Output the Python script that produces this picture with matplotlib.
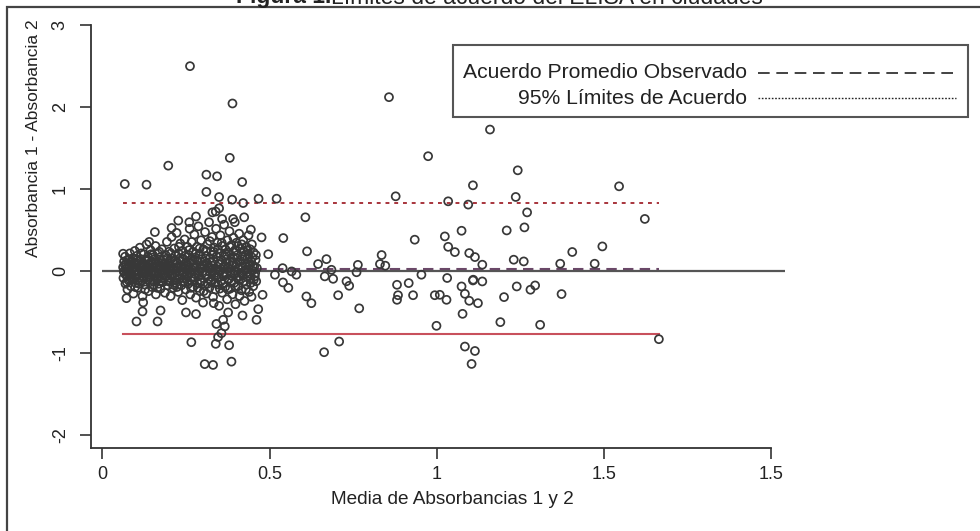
import matplotlib
matplotlib.use("Agg")
import matplotlib.pyplot as plt
from matplotlib.patches import Rectangle
from matplotlib.lines import Line2D

plt.rcParams['font.family'] = ['Liberation Sans', 'DejaVu Sans']

# ---------------- data ----------------
# dense cloud of low absorbance samples (media, diferencia)
nube_izq = [
    (0.062, 0.05), (0.063, -0.08), (0.065, 0.12), (0.066, -0.02), (0.068, 0.18), (0.069, -0.15),
    (0.071, 0.03), (0.072, 0.09), (0.074, -0.06), (0.075, -0.22), (0.076, 0.14), (0.078, 0.0),
    (0.079, -0.11), (0.081, 0.07), (0.082, 0.22), (0.084, -0.04), (0.085, -0.18), (0.087, 0.11),
    (0.088, 0.02), (0.090, -0.09), (0.091, 0.16), (0.093, -0.27), (0.094, 0.05), (0.096, -0.01),
    (0.097, 0.25), (0.099, -0.14), (0.100, 0.08), (0.102, -0.05), (0.103, 0.19), (0.105, 0.01),
    (0.106, -0.20), (0.108, 0.12), (0.109, -0.08), (0.111, 0.04), (0.112, 0.29), (0.114, -0.12),
    (0.115, 0.15), (0.117, -0.02), (0.118, 0.07), (0.120, -0.30), (0.121, 0.10), (0.123, -0.06),
    (0.124, 0.21), (0.126, 0.0), (0.127, -0.16), (0.129, 0.13), (0.130, -0.03), (0.132, 0.33),
    (0.133, 0.06), (0.135, -0.10),
    (0.136, 0.18), (0.138, -0.24), (0.139, 0.02), (0.141, 0.09), (0.142, -0.07), (0.144, 0.26),
    (0.145, -0.01), (0.147, 0.12), (0.148, -0.19), (0.150, 0.05), (0.151, 0.20), (0.153, -0.12),
    (0.154, 0.0), (0.156, 0.15), (0.157, -0.05), (0.159, 0.31), (0.160, -0.28), (0.162, 0.08),
    (0.163, -0.10), (0.165, 0.03), (0.166, 0.22), (0.168, -0.15), (0.169, 0.11), (0.171, -0.02),
    (0.172, 0.17), (0.174, -0.21), (0.175, 0.06), (0.177, -0.08), (0.178, 0.27), (0.180, 0.01),
    (0.181, -0.13), (0.183, 0.14), (0.184, -0.04), (0.186, 0.09), (0.187, -0.26), (0.189, 0.20),
    (0.190, -0.06), (0.192, 0.04), (0.193, 0.36), (0.195, -0.17), (0.196, 0.10), (0.198, -0.01),
    (0.199, 0.24),
]
nube_centro = [
    (0.201, -0.11), (0.203, 0.07), (0.204, -0.30), (0.206, 0.16), (0.207, 0.42), (0.209, -0.03),
    (0.210, 0.12), (0.212, -0.20), (0.213, 0.03), (0.215, 0.28), (0.216, -0.08), (0.218, 0.19),
    (0.219, -0.14), (0.221, 0.05), (0.222, 0.47), (0.224, -0.04), (0.225, 0.10), (0.227, -0.25),
    (0.228, 0.22), (0.230, 0.0), (0.231, -0.09), (0.233, 0.34), (0.234, 0.13), (0.236, -0.17),
    (0.237, 0.06), (0.239, -0.35), (0.240, 0.25), (0.242, -0.02), (0.243, 0.15), (0.245, -0.12),
    (0.246, 0.39), (0.248, 0.04), (0.249, -0.22), (0.251, 0.11), (0.252, -0.06), (0.254, 0.30),
    (0.255, 0.08), (0.257, -0.15), (0.258, 0.20), (0.260, -0.01), (0.261, 0.52), (0.263, -0.28),
    (0.264, 0.14), (0.266, -0.07), (0.267, 0.36), (0.269, 0.02),
    (0.270, -0.19), (0.271, 0.24), (0.273, 0.09), (0.274, -0.10), (0.275, 0.45), (0.277, -0.03),
    (0.278, 0.17), (0.280, -0.32), (0.281, 0.06), (0.283, 0.30), (0.284, -0.14), (0.286, 0.12),
    (0.287, 0.55), (0.289, -0.06), (0.290, 0.21), (0.292, -0.24), (0.293, 0.03), (0.295, 0.38),
    (0.296, -0.11), (0.298, 0.15), (0.299, 0.0), (0.301, -0.38), (0.302, 0.27), (0.304, 0.08),
    (0.305, -0.17), (0.307, 0.48), (0.308, -0.04), (0.310, 0.19), (0.311, -0.27), (0.313, 0.10),
    (0.314, 0.33), (0.316, -0.09), (0.317, 0.04), (0.319, 0.60), (0.320, -0.20), (0.322, 0.16),
    (0.323, -0.01), (0.325, 0.25), (0.326, -0.13), (0.328, 0.42), (0.329, 0.07), (0.331, -0.31),
    (0.332, 0.13), (0.334, -0.05), (0.335, 0.29), (0.337, 0.02), (0.338, -0.22), (0.340, 0.52),
    (0.341, 0.18), (0.343, -0.08), (0.344, 0.35), (0.346, -0.16), (0.347, 0.09),
]
nube_der = [
    (0.349, -0.42), (0.350, 0.22), (0.352, 0.0), (0.353, 0.44), (0.355, -0.12), (0.356, 0.14),
    (0.358, -0.26), (0.359, 0.31), (0.361, 0.05), (0.362, -0.06), (0.364, 0.57), (0.365, 0.19),
    (0.367, -0.19), (0.368, 0.27), (0.370, -0.03), (0.371, 0.10), (0.373, -0.34), (0.374, 0.38),
    (0.376, 0.04), (0.377, -0.10), (0.379, 0.23), (0.380, 0.49), (0.382, -0.21), (0.383, 0.12),
    (0.385, -0.05), (0.386, 0.32), (0.388, 0.07), (0.389, -0.28), (0.391, 0.17), (0.392, 0.41),
    (0.394, -0.14), (0.395, 0.01), (0.397, 0.26), (0.398, -0.40), (0.400, 0.09), (0.401, 0.35),
    (0.403, -0.08), (0.404, 0.20), (0.406, -0.18), (0.407, 0.03), (0.409, 0.46), (0.410, -0.30),
    (0.412, 0.13), (0.413, 0.28), (0.415, -0.02), (0.416, -0.23), (0.418, 0.18), (0.419, 0.06),
    (0.421, 0.38), (0.422, -0.12), (0.424, 0.24), (0.425, -0.36), (0.427, 0.10), (0.428, 0.02),
    (0.430, 0.30), (0.431, -0.16), (0.433, 0.15), (0.434, -0.07), (0.436, 0.21), (0.437, 0.44),
    (0.439, -0.25), (0.440, 0.08), (0.442, 0.27), (0.443, -0.10), (0.445, 0.12), (0.446, -0.31),
    (0.448, 0.17), (0.449, 0.01), (0.451, -0.18), (0.452, 0.23), (0.454, 0.06), (0.456, -0.06),
    (0.458, 0.14), (0.460, -0.12), (0.462, 0.04),
]
nube_nucleo = [
    (0.064, 0.0), (0.070, -0.04), (0.076, 0.06), (0.083, -0.10), (0.089, 0.04), (0.095, -0.07),
    (0.101, 0.10), (0.107, -0.03), (0.113, 0.06), (0.119, -0.11), (0.125, 0.08), (0.131, -0.07),
    (0.137, 0.04), (0.143, -0.13), (0.149, 0.09), (0.155, -0.03), (0.161, 0.06), (0.167, -0.09),
    (0.173, 0.02), (0.179, 0.10), (0.185, -0.08), (0.191, 0.07), (0.197, -0.12), (0.202, 0.03),
    (0.208, -0.06), (0.214, 0.09), (0.220, -0.10), (0.226, 0.04), (0.232, 0.16), (0.238, -0.05),
    (0.244, 0.08), (0.250, -0.09), (0.256, 0.02), (0.262, 0.10), (0.268, -0.12), (0.272, 0.05),
    (0.276, -0.07), (0.282, 0.14), (0.288, 0.0), (0.294, -0.13), (0.300, 0.07), (0.306, 0.12),
    (0.312, -0.04), (0.318, 0.06), (0.324, -0.11), (0.330, 0.20), (0.336, -0.02), (0.342, 0.03),
    (0.348, -0.07), (0.354, 0.09), (0.360, -0.15), (0.366, 0.06), (0.372, 0.15), (0.378, -0.09),
    (0.384, 0.0), (0.390, 0.11), (0.396, -0.03), (0.402, 0.16), (0.408, -0.10), (0.414, 0.05),
    (0.420, -0.05), (0.426, 0.18), (0.432, -0.01), (0.438, 0.11), (0.444, -0.14), (0.450, 0.07),
    (0.457, -0.02),
]
nube_nucleo2 = [
    (0.067, 0.08), (0.073, -0.13), (0.080, 0.15), (0.086, -0.02), (0.092, 0.10), (0.098, -0.19),
    (0.104, 0.14), (0.110, -0.15), (0.116, 0.22), (0.122, 0.02), (0.128, -0.22), (0.134, 0.15),
    (0.140, -0.04), (0.146, 0.21), (0.152, -0.16), (0.158, 0.11), (0.164, -0.20), (0.170, 0.24),
    (0.176, -0.12), (0.182, 0.05), (0.188, -0.02), (0.194, 0.16), (0.200, 0.01), (0.205, 0.22),
    (0.211, -0.16), (0.217, 0.13), (0.223, -0.19), (0.229, 0.30), (0.235, 0.01), (0.241, -0.13),
    (0.247, 0.19), (0.253, -0.03), (0.259, 0.26), (0.265, -0.20), (0.270, 0.13), (0.279, 0.22),
    (0.285, -0.20), (0.291, 0.28), (0.297, 0.05), (0.303, -0.24), (0.309, 0.25), (0.315, -0.15),
    (0.321, 0.37), (0.327, 0.01), (0.333, 0.24), (0.339, -0.14), (0.345, 0.27), (0.351, -0.21),
    (0.357, 0.35), (0.363, -0.01), (0.369, 0.21), (0.375, -0.22), (0.381, 0.30), (0.387, -0.12),
    (0.393, 0.24), (0.399, -0.19), (0.405, 0.31), (0.411, -0.06), (0.417, 0.33), (0.423, 0.0),
    (0.429, -0.22), (0.435, 0.26), (0.441, -0.03), (0.447, 0.33), (0.453, -0.10), (0.459, 0.20),
]
# scattered samples
dispersos = [
    (0.067, 1.066), (0.132, 1.058), (0.197, 1.29), (0.311, 1.18), (0.343, 1.16), (0.381, 1.385),
    (0.418, 1.09), (0.311, 0.97), (0.349, 0.907), (0.388, 0.875), (0.421, 0.834), (0.467, 0.887),
    (0.521, 0.887), (0.349, 0.77), (0.339, 0.73), (0.329, 0.72), (0.358, 0.64), (0.391, 0.64),
    (0.396, 0.60), (0.424, 0.66), (0.280, 0.67), (0.260, 0.60), (0.227, 0.62), (0.207, 0.53),
    (0.157, 0.48), (0.140, 0.36), (0.062, 0.216), (0.444, 0.51), (0.476, 0.415), (0.541, 0.407),
    (0.607, 0.66), (0.612, 0.245), (0.670, 0.15), (0.645, 0.09), (0.496, 0.21), (0.539, 0.04),
    (0.566, 0.0), (0.580, -0.04), (0.516, -0.04), (0.540, -0.134), (0.556, -0.20), (0.479, -0.285),
    (0.610, -0.305), (0.625, -0.387), (0.665, -0.06), (0.690, -0.09), (0.685, 0.02), (0.705, -0.29),
    (0.730, -0.12), (0.738, -0.175), (0.764, 0.08), (0.760, -0.01), (0.768, -0.45), (0.835, 0.20),
    (0.830, 0.09), (0.846, 0.07), (0.877, 0.916), (0.974, 1.405), (1.034, 0.855), (1.094, 0.815),
    (1.108, 1.05), (0.934, 0.387), (1.024, 0.427), (1.074, 0.496), (1.034, 0.30), (1.054, 0.236),
    (1.097, 0.224), (1.114, 0.175), (0.954, -0.04), (0.881, -0.163), (0.916, -0.142), (0.884, -0.29),
    (0.881, -0.346), (0.929, -0.29), (0.994, -0.29), (1.009, -0.285), (1.029, -0.346), (1.031, -0.08),
    (1.074, -0.183), (1.084, -0.273), (1.097, -0.358), (1.108, -0.11), (1.123, -0.387), (1.077, -0.517),
    (0.999, -0.663), (1.084, -0.916), (1.114, -0.97), (1.104, -1.128), (0.708, -0.855), (0.663, -0.985),
    (0.072, -0.326), (0.122, -0.378), (0.120, -0.488), (0.102, -0.61), (0.165, -0.61), (0.174, -0.476),
    (0.250, -0.50), (0.280, -0.52), (0.333, -0.387), (0.376, -0.50), (0.419, -0.537), (0.466, -0.46),
    (0.461, -0.59), (0.341, -0.64), (0.361, -0.59), (0.366, -0.67), (0.356, -0.753), (0.346, -0.80),
    (0.266, -0.863), (0.339, -0.883), (0.379, -0.90), (0.386, -1.10), (0.306, -1.13), (0.331, -1.14),
    (0.262, 2.503), (0.389, 2.048), (0.857, 2.125),
    (1.159, 1.73), (1.242, 1.233), (1.545, 1.038), (1.236, 0.908), (1.270, 0.72), (1.622, 0.64),
    (1.209, 0.50), (1.262, 0.537), (1.136, 0.082), (1.230, 0.143), (1.260, 0.122), (1.369, 0.094),
    (1.472, 0.094), (1.405, 0.237), (1.495, 0.305), (1.109, -0.101), (1.136, -0.122), (1.239, -0.183),
    (1.280, -0.223), (1.294, -0.171), (1.201, -0.313), (1.373, -0.276), (1.190, -0.618), (1.309, -0.651),
    (1.664, -0.826),
]

sesgo = 0.035          # acuerdo promedio observado
lim_superior = 0.83    # 95% limite superior
lim_inferior = -0.76   # 95% limite inferior
linea_cero_fin = 2.04

x_ticks = [0, 0.5, 1, 1.5, 2]
x_tick_labels = ["0", "0.5", "1", "1.5", "1.5"]
y_ticks = [-2, -1, 0, 1, 2, 3]
y_tick_labels = ["-2", "-1", "0", "1", "2", "3"]

titulo_bold = "Figura 1."
titulo_resto = "Límites de acuerdo del ELISA en ciudades"
etiqueta_x = "Media de Absorbancias 1 y 2"
etiqueta_y = "Absorbancia 1 - Absorbancia 2"
leyenda = ["Acuerdo Promedio Observado", "95% Límites de Acuerdo"]

# ---------------- figure ----------------
W, H = 980, 531
fig = plt.figure(figsize=(W / 100, H / 100), dpi=100)
fig.patch.set_facecolor('white')

def fx(px):
    return px / W

def fy(py):
    return 1 - py / H

ax_l, ax_r, ax_t, ax_b = 91, 798, 21.3, 448
ax = fig.add_axes([fx(ax_l), fy(ax_b), (ax_r - ax_l) / W, (ax_b - ax_t) / H])
ax.set_xlim(-0.034, 2.08)
ax.set_ylim(-2.153, 3.05)

puntos = nube_izq + nube_centro + nube_der + nube_nucleo + nube_nucleo2 + dispersos
media = [p[0] for p in puntos]
diferencia = [p[1] for p in puntos]
xmin, xmax = min(media), max(media)

ax.plot([0, linea_cero_fin], [0, 0], color='#555555', lw=1.6, zorder=1, solid_capstyle='butt')
ax.plot([xmin, xmax], [sesgo, sesgo], color='#6a4868', lw=1.5, dashes=(5, 3), zorder=1)
ax.plot([xmin, xmax], [lim_superior, lim_superior], color='#a8343c', lw=1.4, dashes=(2, 2.5), zorder=1)
ax.plot([xmin, xmax], [lim_inferior, lim_inferior], color='#c8505c', lw=1.5, zorder=1)

ax.scatter(media, diferencia, s=33, marker='o', facecolors='none',
           edgecolors='#383838', linewidths=1.25, zorder=2)

for s in ['top', 'right']:
    ax.spines[s].set_visible(False)
for s in ['left', 'bottom']:
    ax.spines[s].set_color('#333333')
    ax.spines[s].set_linewidth(1.3)
ax.spines['left'].set_bounds(-2.153, 3)
ax.spines['bottom'].set_bounds(-0.034, 2.0)

ax.set_xticks(x_ticks)
ax.set_xticklabels(x_tick_labels)
ax.set_yticks(y_ticks)
ax.set_yticklabels(y_tick_labels)
ax.tick_params(axis='both', direction='out', length=8, width=1.2, color='#333333',
               labelsize=13, labelcolor='#222222')
ax.tick_params(axis='x', pad=5)
ax.tick_params(axis='y', pad=8)
for lbl in ax.get_yticklabels():
    lbl.set_rotation(90)
    lbl.set_va('center')

ax.set_xlabel(etiqueta_x, fontsize=13.7, color='#222222')
ax.xaxis.set_label_coords((452 - ax_l) / (ax_r - ax_l), (ax_b - 500) / (ax_b - ax_t))
ax.xaxis.label.set_va('center')
ax.set_ylabel(etiqueta_y, fontsize=12.5, color='#222222')
ax.yaxis.set_label_coords((33 - ax_l) / (ax_r - ax_l), (ax_b - 138) / (ax_b - ax_t))
ax.yaxis.label.set_va('center')

# legend box (text left of the line samples)
fig.patches.append(Rectangle((fx(453), fy(117)), (968 - 453) / W, (117 - 45) / H,
                             transform=fig.transFigure, fill=False, ec='#555555', lw=1.5))
fig.text(fx(747), fy(73), leyenda[0], ha='right', va='center', fontsize=15.2, color='#222222')
fig.text(fx(747), fy(98), leyenda[1], ha='right', va='center', fontsize=15.2, color='#222222')
fig.lines.append(Line2D([fx(758), fx(956)], [fy(73), fy(73)], transform=fig.transFigure,
                        color='#222222', lw=1.2, dashes=(7, 4)))
fig.lines.append(Line2D([fx(758), fx(956)], [fy(98), fy(98)], transform=fig.transFigure,
                        color='#222222', lw=1.0, dashes=(1.2, 1.2)))

# outer frame (cropped) and cropped title
fig.patches.append(Rectangle((fx(7), -0.1), 1.2, fy(7) + 0.1, transform=fig.transFigure,
                             fill=False, ec='#444444', lw=1.6, clip_on=False))
fig.text(fx(331), fy(3.5), titulo_bold, ha='right', va='baseline', fontsize=16.5,
         fontweight='bold', color='#222222')
fig.text(fx(331), fy(3.5), titulo_resto, ha='left', va='baseline', fontsize=16.5, color='#222222')

fig.savefig('out.png', dpi=100)
